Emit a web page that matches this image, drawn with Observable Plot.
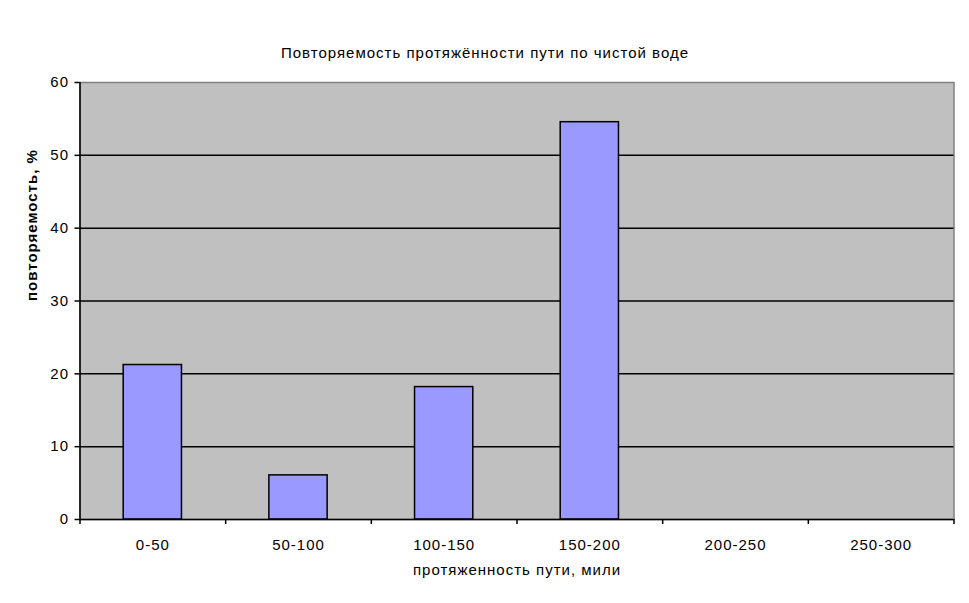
<!DOCTYPE html>
<html>
<head>
<meta charset="utf-8">
<script src="https://cdn.jsdelivr.net/npm/d3@7"></script>
<script src="https://cdn.jsdelivr.net/npm/@observablehq/plot@0.6"></script>
<style>
  html, body { margin: 0; padding: 0; background: #fff; }
  #chart svg { display: block; }
  #chart text { letter-spacing: 1px; }
</style>
</head>
<body>
<div id="chart"></div>
<script>
const title = "Повторяемость протяжённости пути по чистой воде";
const xLabel = "протяженность пути, мили";
const yLabel = "повторяемость, %";
const categories = ["0-50", "50-100", "100-150", "150-200", "200-250", "250-300"];
const values = [21.21, 6.06, 18.18, 54.55, 0, 0];
const yTicks = [0, 10, 20, 30, 40, 50, 60];
const gridTicks = [10, 20, 30, 40, 50];

const data = categories.map((c, i) => ({cat: c, v: values[i]}));

const W = 969, H = 603;
const mL = 79.5, mR = 15.5, mT = 82, mB = 84;
const step = (W - mL - mR) / categories.length;
const font = "Arial, 'Liberation Sans', sans-serif";

const chart = Plot.plot({
  width: W,
  height: H,
  marginLeft: mL,
  marginRight: mR,
  marginTop: mT,
  marginBottom: mB,
  style: {fontFamily: font, fontSize: "15px", color: "#000", background: "#fff"},
  x: {type: "band", domain: categories, paddingInner: 0.6, paddingOuter: 0.3, round: false, label: null},
  y: {type: "linear", domain: [0, 60], label: null},
  marks: [
    Plot.frame({fill: "#c0c0c0", stroke: "#808080", strokeWidth: 1.5}),
    Plot.ruleY(gridTicks, {stroke: "#000", strokeWidth: 1.5}),
    Plot.barY(data.filter(d => d.v > 0), {x: "cat", y: "v", fill: "#9999ff", stroke: "#000", strokeWidth: 1.5}),
    Plot.ruleY([0], {stroke: "#000", strokeWidth: 1.5}),
    Plot.ruleX([categories[0]], {x: d => d, dx: -step / 2, y1: 0, y2: 60, stroke: "#000", strokeWidth: 1.5}),
    Plot.ruleX([categories[0]], {x: d => d, dx: -step / 2, y1: 0, y2: 0, insetBottom: -5, stroke: "#000", strokeWidth: 1.5}),
    Plot.ruleX(categories, {x: d => d, dx: step / 2, y1: 0, y2: 0, insetBottom: -5, stroke: "#000", strokeWidth: 1.5}),
    Plot.axisY(yTicks, {tickSize: 5, tickPadding: 6, fontSize: 15, stroke: "#000", strokeWidth: 1.5, label: null}),
    Plot.axisX({tickSize: 0, tickPadding: 20, fontSize: 15, label: null}),
    Plot.text([xLabel], {frameAnchor: "bottom", dy: 55, fontSize: 15, fill: "#000"}),
    Plot.text([yLabel], {frameAnchor: "left", dx: -48, rotate: -90, fontSize: 15, fontWeight: "bold", fill: "#000"}),
    Plot.text([title], {frameAnchor: "top", dy: -35, dx: (mR - mL) / 2, fontSize: 15, fill: "#000"})
  ]
});
document.getElementById("chart").appendChild(chart);
</script>
</body>
</html>
